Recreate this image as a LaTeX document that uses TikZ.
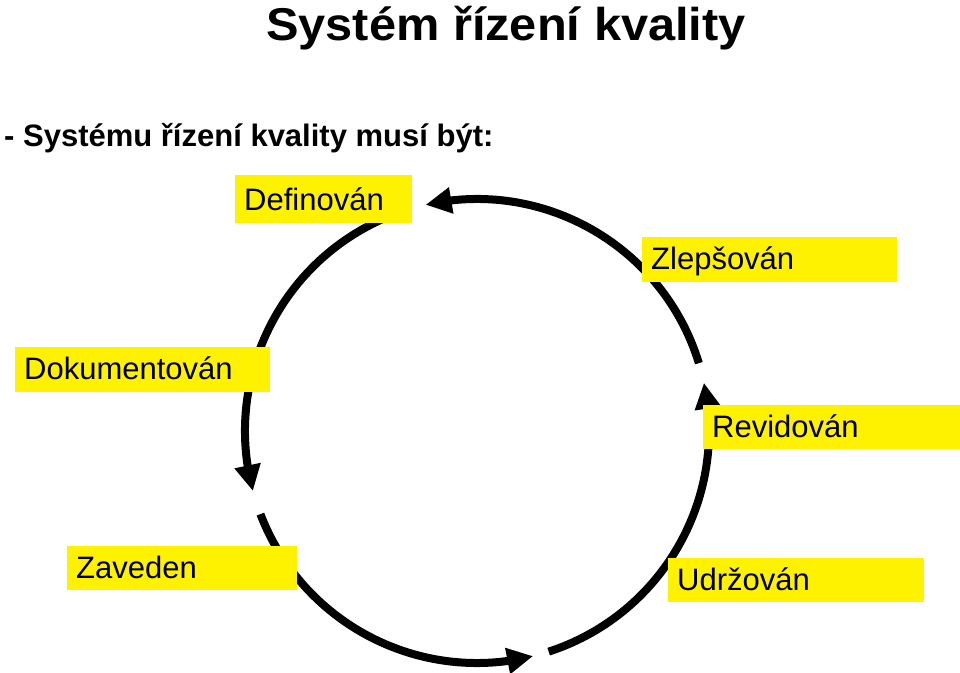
\documentclass[tikz,border=0pt]{standalone}
\usepackage{fontspec}
\setmainfont{Liberation Sans}
\newfontfamily\titlefont{Liberation Sans}[FakeStretch=1.06]
\usetikzlibrary{arrows.meta, bending}

\begin{document}
\begin{tikzpicture}[
    x=1bp, y=1bp,
    tagbox/.style={fill=yellow, anchor=north west, inner xsep=9bp, inner ysep=0pt, text height=32bp, text depth=13bp, align=left, font=\fontsize{31bp}{37bp}\selectfont},
    cyklus/.style={line width=8bp, -{Triangle[length=26bp, width=25bp]}}
]
    \useasboundingbox (0,0) rectangle (960,673);

    % Nadpisy
    \node[anchor=base, inner sep=0pt, font=\titlefont\bfseries\fontsize{46bp}{52bp}\selectfont] (nadpis) at (506,632) {Systém řízení kvality};
    \node[anchor=base west, inner sep=0pt, font=\bfseries\fontsize{31bp}{37bp}\selectfont] (podnadpis) at (4,526) {- Systému řízení kvality musí být:};

    % Kruh
    \coordinate (stred) at (477,242);
    \draw[cyklus] ([shift={(17:232)}]stred) arc[start angle=17, end angle=102.8, radius=232];
    \draw[cyklus] ([shift={(112:232)}]stred) arc[start angle=112, end angle=195, radius=232];
    \draw[cyklus] ([shift={(201:232)}]stred) arc[start angle=201, end angle=284, radius=232];
    \draw[cyklus] ([shift={(288:232)}]stred) arc[start angle=288, end angle=372, radius=232];

    % Štítky
    \node[tagbox, text width=159bp, text height=35bp] (definovan) at (235,498) {Definován};
    \node[tagbox, text width=237bp] (zlepsovan) at (642,436) {Zlepšován};
    \node[tagbox, text width=237bp] (dokumentovan) at (15,326) {Dokumentován};
    \node[tagbox, text width=239bp, text depth=12bp] (revidovan) at (703,268) {Revidován};
    \node[tagbox, text width=212bp, text depth=12bp] (zaveden) at (67,127) {Zaveden};
    \node[tagbox, text width=238bp, text depth=12bp] (udrzovan) at (668,115) {Udržován};
\end{tikzpicture}
\end{document}
